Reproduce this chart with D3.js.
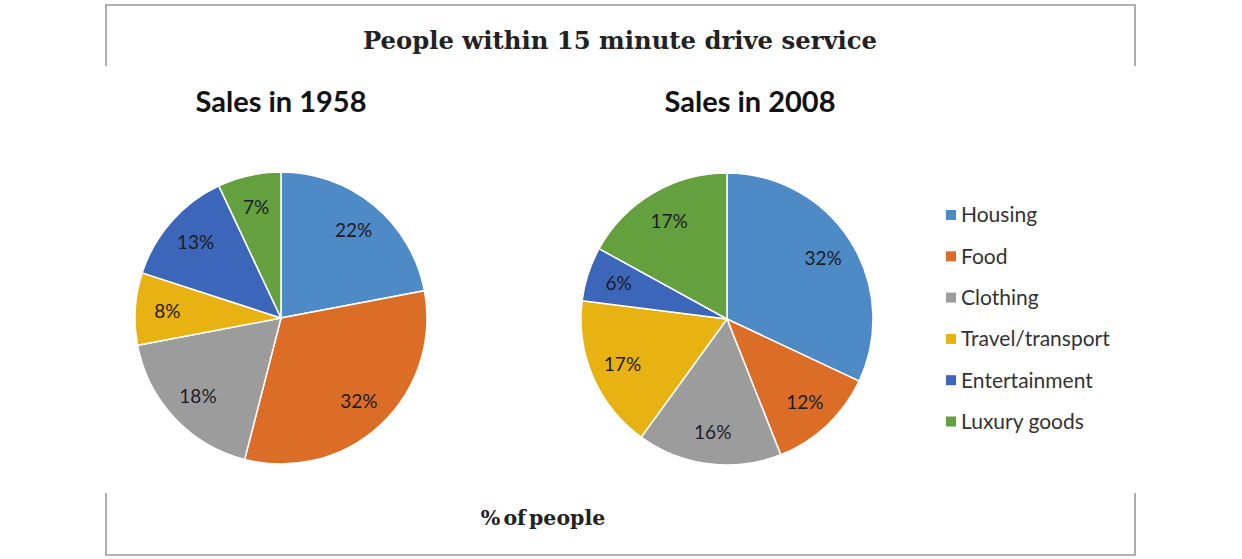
<!DOCTYPE html>
<html>
<head>
<meta charset="utf-8">
<script src="https://cdn.jsdelivr.net/npm/d3@7"></script>
<style>
  body { margin: 0; background: #fff; }
  svg { display: block; }
</style>
</head>
<body>
<svg id="chart" width="1242" height="559"></svg>
<script>
// categories and the two years' shares (% of people)
var categories = ["Housing", "Food", "Clothing", "Travel/transport", "Entertainment", "Luxury goods"];
var sales1958 = [22, 32, 18, 8, 13, 7];
var sales2008 = [32, 12, 16, 17, 6, 17];
var colors = ["#4e8ac6", "#db6d27", "#9c9c9c", "#e9b213", "#3c66b9", "#65a03f"];

var svg = d3.select("#chart");

// frame: top and bottom strips only, like the original picture
var frame = svg.append("g").attr("fill", "none").attr("stroke", "#9a9a9a").attr("stroke-width", 1.6);
frame.append("path").attr("d", "M106,66V5H1135V66");
frame.append("path").attr("d", "M106,493V555H1135V493");

svg.append("text")
    .attr("x", 620).attr("y", 49)
    .attr("text-anchor", "middle")
    .attr("font-family", "DejaVu Serif")
    .attr("font-weight", "bold")
    .attr("font-size", 24.3)
    .attr("fill", "#222")
    .text("People within 15 minute drive service");

svg.append("text")
    .attr("x", 543).attr("y", 525)
    .attr("text-anchor", "middle")
    .attr("font-family", "DejaVu Serif")
    .attr("font-weight", "bold")
    .attr("font-size", 20.5)
    .attr("word-spacing", -4)
    .attr("fill", "#222")
    .text("% of people");

var color = d3.scaleOrdinal().domain(categories).range(colors);
var radius = 146;
var pie = d3.pie().sort(null).value(function(d) { return d.value; });
var arc = d3.arc().innerRadius(0).outerRadius(radius);
var labelArc = d3.arc().innerRadius(radius * 0.78).outerRadius(radius * 0.78);

var charts = [
  {title: "Sales in 1958", values: sales1958, cx: 281, cy: 318, tx: 281},
  {title: "Sales in 2008", values: sales2008, cx: 727, cy: 319, tx: 750}
];

charts.forEach(function(c) {
  svg.append("text")
      .attr("x", c.tx).attr("y", 112)
      .attr("text-anchor", "middle")
      .attr("font-family", "Lato")
      .attr("font-weight", "bold")
      .attr("font-size", 29)
      .attr("fill", "#111")
      .text(c.title);

  var data = categories.map(function(k, i) { return {key: k, value: c.values[i]}; });
  var g = svg.append("g").attr("transform", "translate(" + c.cx + "," + c.cy + ")");
  var arcs = pie(data);

  g.selectAll("path")
    .data(arcs)
    .enter().append("path")
      .attr("d", arc)
      .attr("fill", function(d) { return color(d.data.key); })
      .attr("stroke", "#fff")
      .attr("stroke-width", 1.5);

  g.selectAll("text")
    .data(arcs)
    .enter().append("text")
      .attr("transform", function(d) { return "translate(" + labelArc.centroid(d) + ")"; })
      .attr("text-anchor", "middle")
      .attr("dy", "0.35em")
      .attr("font-family", "Lato")
      .attr("font-size", 19)
      .attr("fill", "#1c1c28")
      .text(function(d) { return d.data.value + "%"; });
});

// legend
var legend = svg.append("g").attr("transform", "translate(946,215)");
var item = legend.selectAll("g")
  .data(categories)
  .enter().append("g")
    .attr("transform", function(d, i) { return "translate(0," + (i * 41.3) + ")"; });
item.append("rect")
    .attr("x", 0).attr("y", -5)
    .attr("width", 10).attr("height", 10)
    .attr("fill", function(d) { return color(d); });
item.append("text")
    .attr("x", 15).attr("dy", "0.35em")
    .attr("font-family", "Lato")
    .attr("font-size", 21)
    .attr("fill", "#333")
    .text(function(d) { return d; });
</script>
</body>
</html>
